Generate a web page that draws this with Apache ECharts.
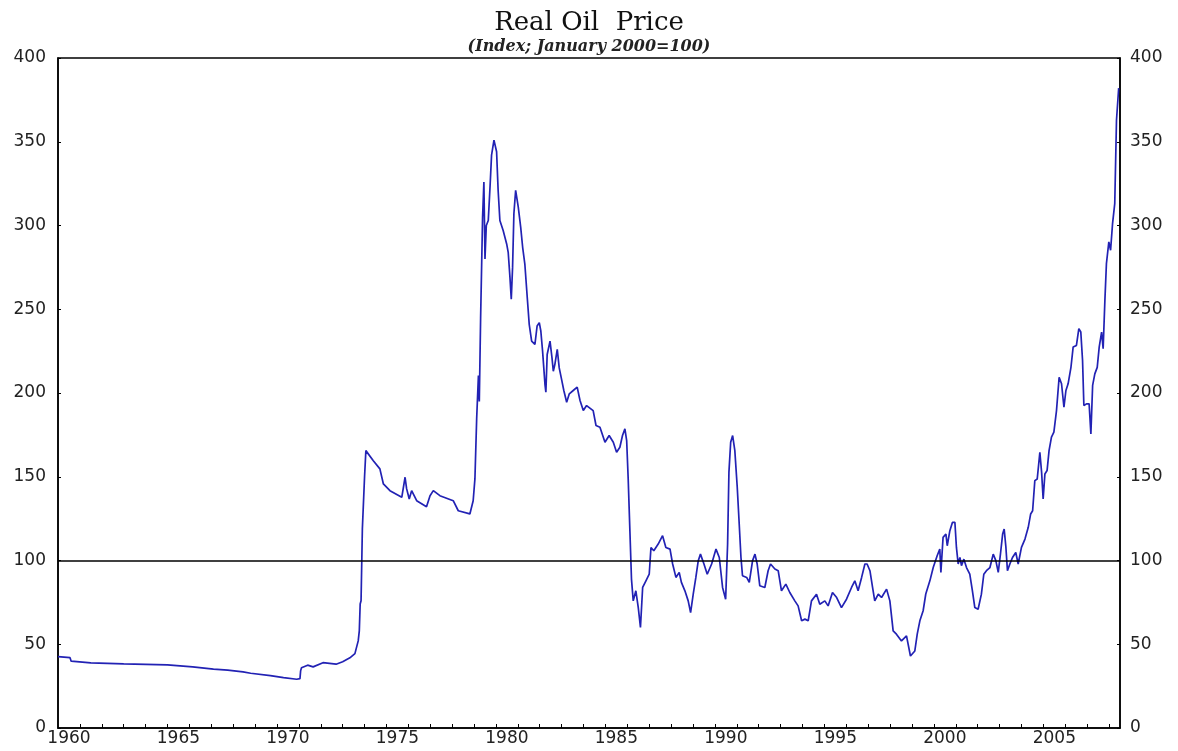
<!DOCTYPE html>
<html>
<head>
<meta charset="utf-8">
<title>Real Oil Price</title>
<script src="https://cdn.jsdelivr.net/npm/echarts@6/dist/echarts.min.js"></script>
<style>
  html, body { margin: 0; padding: 0; background: #fff; }
  #chart { width: 1178px; height: 751px; }
</style>
</head>
<body>
<div id="chart"></div>
<script>
// time (fractional year) of each reading
const years = [
  1960.0, 1960.55, 1960.6, 1961.5, 1963.0, 1965.0, 1966.15, 1967.1, 1967.75, 1968.45,
  1968.8, 1969.7, 1970.3, 1970.9, 1971.05, 1971.08, 1971.12, 1971.4, 1971.65, 1972.1,
  1972.7, 1973.0, 1973.33, 1973.56, 1973.71, 1973.76, 1973.8, 1973.84, 1973.9, 1974.0,
  1974.06, 1974.4, 1974.7, 1974.86, 1975.16, 1975.7, 1975.85, 1975.92, 1976.04, 1976.15,
  1976.38, 1976.83, 1976.99, 1977.14, 1977.44, 1978.05, 1978.28, 1978.81, 1978.96, 1979.04,
  1979.12, 1979.2, 1979.24, 1979.3, 1979.39, 1979.45, 1979.5, 1979.56, 1979.65, 1979.73,
  1979.8, 1979.91, 1980.03, 1980.1, 1980.18, 1980.33, 1980.49, 1980.56, 1980.64, 1980.7,
  1980.76, 1980.82, 1980.9, 1981.02, 1981.13, 1981.22, 1981.32, 1981.43, 1981.52, 1981.63,
  1981.78, 1981.88, 1981.98, 1982.05, 1982.13, 1982.24, 1982.28, 1982.34, 1982.47, 1982.56,
  1982.62, 1982.69, 1982.8, 1982.89, 1983.0, 1983.1, 1983.23, 1983.35, 1983.53, 1983.71,
  1983.84, 1983.99, 1984.14, 1984.44, 1984.57, 1984.75, 1984.98, 1985.17, 1985.36, 1985.51,
  1985.66, 1985.78, 1985.89, 1985.97, 1986.04, 1986.12, 1986.19, 1986.27, 1986.39, 1986.5,
  1986.6, 1986.7, 1986.85, 1987.0, 1987.08, 1987.21, 1987.41, 1987.61, 1987.76, 1987.95,
  1988.07, 1988.22, 1988.37, 1988.47, 1988.63, 1988.78, 1988.89, 1989.01, 1989.13, 1989.24,
  1989.34, 1989.5, 1989.65, 1989.85, 1990.05, 1990.2, 1990.35, 1990.49, 1990.58, 1990.64,
  1990.72, 1990.81, 1990.91, 1991.02, 1991.11, 1991.19, 1991.26, 1991.45, 1991.57, 1991.72,
  1991.83, 1991.93, 1992.05, 1992.28, 1992.43, 1992.54, 1992.74, 1992.89, 1993.04, 1993.24,
  1993.42, 1993.65, 1993.8, 1993.96, 1994.11, 1994.26, 1994.41, 1994.64, 1994.79, 1995.02,
  1995.17, 1995.37, 1995.56, 1995.78, 1996.01, 1996.24, 1996.39, 1996.54, 1996.7, 1996.85,
  1996.95, 1997.08, 1997.2, 1997.3, 1997.46, 1997.61, 1997.84, 1997.99, 1998.14, 1998.29,
  1998.52, 1998.75, 1998.93, 1999.13, 1999.24, 1999.36, 1999.51, 1999.63, 1999.82, 1999.97,
  2000.15, 2000.27, 2000.32, 2000.42, 2000.55, 2000.61, 2000.73, 2000.85, 2000.96, 2001.03,
  2001.11, 2001.19, 2001.26, 2001.37, 2001.49, 2001.64, 2001.76, 2001.87, 2002.02, 2002.17,
  2002.28, 2002.4, 2002.56, 2002.71, 2002.83, 2002.94, 2003.04, 2003.14, 2003.21, 2003.29,
  2003.36, 2003.47, 2003.59, 2003.74, 2003.85, 2004.0, 2004.16, 2004.31, 2004.42, 2004.51,
  2004.61, 2004.72, 2004.84, 2004.92, 2004.99, 2005.07, 2005.17, 2005.26, 2005.37, 2005.48,
  2005.6, 2005.72, 2005.83, 2005.94, 2006.03, 2006.13, 2006.26, 2006.36, 2006.51, 2006.62,
  2006.71, 2006.79, 2006.85, 2006.97, 2007.09, 2007.17, 2007.25, 2007.35, 2007.46, 2007.55,
  2007.66, 2007.73, 2007.81, 2007.88, 2007.99, 2008.07, 2008.16, 2008.26, 2008.34, 2008.44
];

// real oil price index (January 2000 = 100)
const priceIndex = [
  42.6, 42.0, 39.9, 38.9, 38.3, 37.7, 36.5, 35.1, 34.5, 33.5,
  32.7, 31.3, 30.1, 29.1, 29.5, 34.1, 36.0, 37.5, 36.5, 39.0,
  38.1, 39.6, 41.9, 44.4, 52.0, 58.0, 74.0, 76.0, 119.0, 150.0,
  165.6, 159.6, 154.7, 145.7, 141.7, 137.7, 149.7, 142.9, 136.7, 141.7,
  135.7, 132.1, 138.7, 141.7, 138.7, 135.7, 129.7, 127.8, 135.7, 148.7,
  184.6, 210.5, 195.0, 244.4, 305.0, 326.0, 280.0, 300.0, 303.0, 323.0,
  342.0, 351.0, 344.0, 321.0, 303.0, 297.0, 289.0, 284.0, 269.0, 256.0,
  275.0, 307.0, 321.0, 311.0, 299.0, 287.0, 277.0, 257.0, 241.0, 231.0,
  229.0, 240.0, 242.0, 237.0, 225.0, 205.0, 200.5, 223.0, 231.0, 221.0,
  213.0, 217.0, 226.0, 215.0, 208.0, 201.5, 194.5, 199.5, 201.5, 203.5,
  195.5, 189.5, 192.5, 189.5, 180.6, 179.6, 170.6, 174.6, 170.6, 164.6,
  167.6, 174.6, 178.6, 171.6, 148.7, 116.8, 88.9, 75.9, 81.9, 71.9,
  60.0, 83.9, 87.9, 91.8, 107.8, 105.8, 109.8, 114.8, 107.8, 106.8,
  97.9, 89.9, 92.9, 86.9, 81.9, 75.9, 68.9, 79.9, 89.9, 99.9,
  103.8, 97.9, 91.8, 97.9, 106.8, 101.8, 83.9, 76.9, 109.8, 152.6,
  170.6, 174.6, 165.6, 143.7, 121.8, 101.8, 90.9, 89.9, 86.9, 99.9,
  103.8, 97.9, 84.9, 83.9, 93.9, 97.9, 94.9, 93.9, 81.9, 85.9,
  80.9, 75.9, 72.9, 64.0, 65.0, 64.0, 75.9, 79.9, 73.9, 75.9,
  72.9, 80.9, 77.9, 71.9, 76.9, 83.9, 87.9, 81.9, 89.9, 97.9,
  97.9, 93.9, 83.9, 75.9, 79.9, 77.9, 82.9, 75.9, 58.0, 56.0,
  52.0, 55.0, 43.0, 46.0, 56.0, 64.0, 70.0, 80.0, 88.0, 95.8,
  102.8, 106.8, 92.9, 113.8, 115.8, 108.8, 117.8, 122.8, 122.8, 107.8,
  97.9, 101.8, 96.9, 100.8, 95.8, 91.8, 81.9, 71.9, 70.9, 79.9,
  91.8, 93.9, 95.8, 103.8, 99.9, 92.9, 103.8, 115.8, 118.8, 107.8,
  93.9, 97.9, 101.8, 104.8, 97.9, 107.8, 112.8, 119.8, 127.8, 129.7,
  147.7, 148.7, 164.6, 152.6, 136.7, 151.6, 153.7, 165.6, 173.6, 176.6,
  189.5, 209.4, 205.5, 191.5, 201.5, 205.5, 215.3, 227.4, 228.4, 238.4,
  236.4, 219.4, 192.5, 193.5, 193.5, 175.6, 204.5, 211.4, 215.3, 227.4,
  236.4, 226.4, 255.3, 277.2, 290.2, 285.2, 301.1, 313.1, 363.0, 382.0
];

// labelled years on the x axis (drawn at mid-year)
const yearLabels = [1960, 1965, 1970, 1975, 1980, 1985, 1990, 1995, 2000, 2005];
// yearly tick marks
const yearTicks = [];
for (let y = 1961; y <= 2008; y++) yearTicks.push(y);

const chartInstance = echarts.init(document.getElementById("chart"));

const labelFont = {
  color: "#222",
  fontFamily: "DejaVu Sans",
  fontSize: 17,
};

const option = {
  backgroundColor: "#fff",
  animation: false,
  title: [
    {
      text: "Real Oil  Price",
      left: "center",
      top: 5,
      textStyle: {
        fontFamily: "DejaVu Serif",
        fontWeight: "normal",
        fontSize: 26,
        color: "#111",
      },
    },
    {
      text: "(Index; January 2000=100)",
      left: "center",
      top: 34,
      textStyle: {
        fontFamily: "DejaVu Serif",
        fontStyle: "italic",
        fontWeight: "bold",
        fontSize: 16,
        color: "#222",
      },
    },
  ],
  grid: {
    left: 58,
    right: 58,
    top: 58,
    bottom: 23,
    show: true,
    borderColor: "#000",
    borderWidth: 1.5,
  },
  xAxis: {
    type: "value",
    min: 1960,
    max: 2008.5,
    axisLine: { show: true, lineStyle: { color: "#000", width: 1.5 } },
    axisTick: {
      show: true,
      inside: true,
      length: 4,
      customValues: yearTicks,
      lineStyle: { color: "#000" },
    },
    axisLabel: {
      ...labelFont,
      margin: 2,
      customValues: yearLabels.map((y) => y + 0.5),
      formatter: (v) => String(Math.floor(v)),
    },
    splitLine: { show: false },
  },
  yAxis: [
    {
      type: "value",
      min: 0,
      max: 400,
      interval: 50,
      position: "left",
      axisLine: { show: true, lineStyle: { color: "#000", width: 1.5 } },
      axisTick: { show: true, inside: true, length: 3, lineStyle: { color: "#000" } },
      axisLabel: { ...labelFont, margin: 12 },
      splitLine: { show: false },
    },
    {
      type: "value",
      min: 0,
      max: 400,
      interval: 50,
      position: "right",
      axisLine: { show: true, lineStyle: { color: "#000", width: 1.5 } },
      axisTick: { show: true, inside: true, length: 3, lineStyle: { color: "#000" } },
      axisLabel: { ...labelFont, margin: 10 },
      splitLine: { show: false },
    },
  ],
  series: [
    {
      type: "line",
      data: years.map((y, i) => [y, priceIndex[i]]),
      showSymbol: false,
      lineStyle: { color: "#2222b4", width: 1.7 },
      markLine: {
        silent: true,
        symbol: "none",
        label: { show: false },
        lineStyle: { color: "#000", width: 1.5, type: "solid" },
        data: [{ yAxis: 100 }],
      },
    },
  ],
};

chartInstance.setOption(option);
</script>
</body>
</html>
